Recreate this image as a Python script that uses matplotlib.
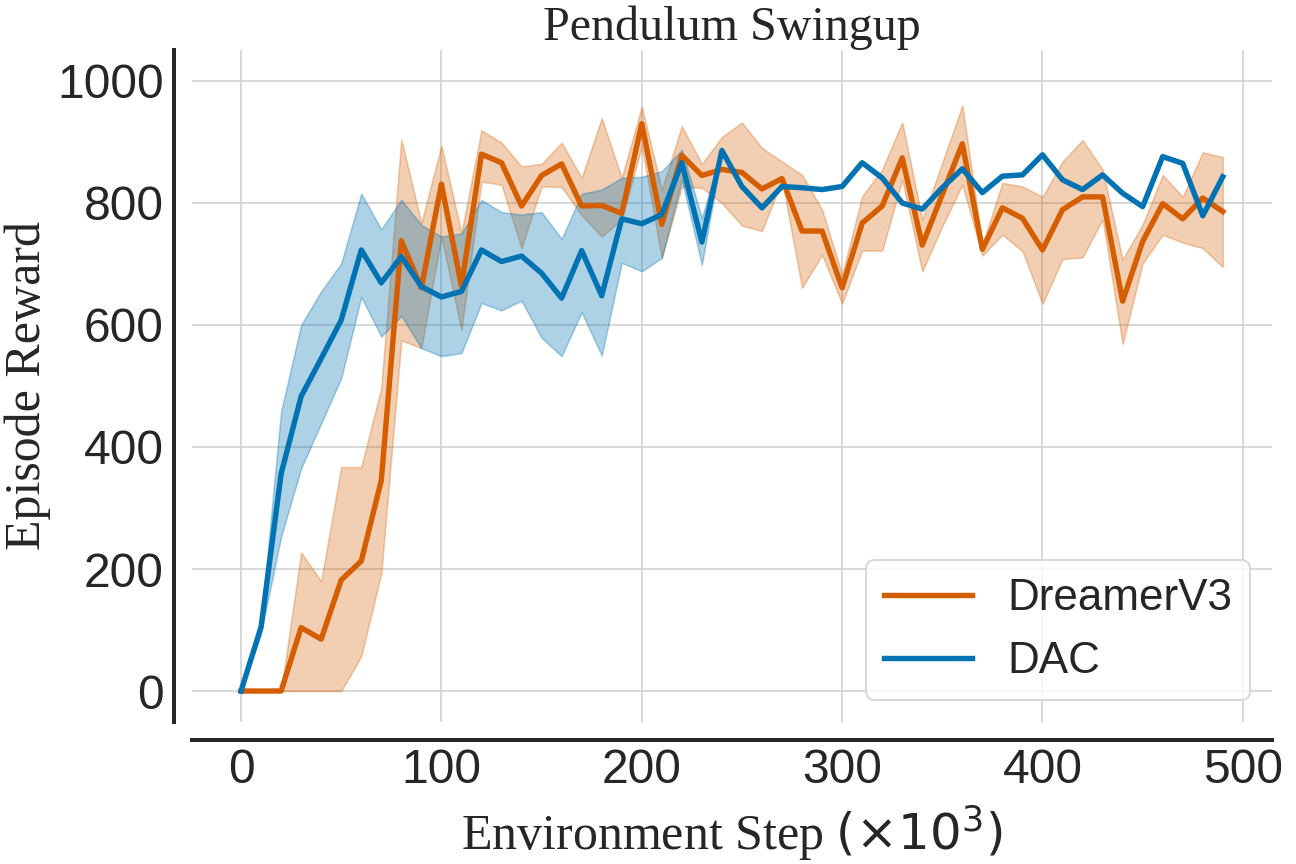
import matplotlib
matplotlib.use("Agg")
import matplotlib.pyplot as plt

# environment steps (x1000)
steps = [0, 10, 20, 30, 40, 50, 60, 70, 80, 90,
         100, 110, 120, 130, 140, 150, 160, 170, 180, 190,
         200, 210, 220, 230, 240, 250, 260, 270, 280, 290,
         300, 310, 320, 330, 340, 350, 360, 370, 380, 390,
         400, 410, 420, 430, 440, 450, 460, 470, 480, 490]

dreamer_mean = [0, 0, 0, 104, 85, 182, 213, 345, 738, 661,
                831, 664, 880, 866, 795, 845, 864, 795, 796, 783,
                930, 765, 878, 845, 855, 850, 823, 840, 754, 754,
                661, 767, 795, 874, 731, 814, 897, 724, 792, 775,
                723, 789, 810, 810, 639, 737, 799, 774, 808, 786]
dreamer_upper = [0, 0, 0, 227, 180, 367, 367, 497, 904, 767,
                 894, 751, 919, 899, 860, 864, 899, 841, 939, 841,
                 958, 822, 926, 864, 908, 932, 890, 868, 846, 789,
                 683, 811, 855, 932, 773, 866, 960, 732, 833, 827,
                 810, 868, 903, 855, 707, 765, 846, 810, 883, 875]
dreamer_lower = [0, 0, 0, 0, 0, 0, 57, 193, 575, 562,
                 745, 592, 835, 830, 726, 827, 826, 780, 745, 773,
                 893, 710, 826, 825, 800, 763, 754, 838, 661, 715,
                 635, 722, 722, 838, 688, 762, 830, 714, 748, 721,
                 635, 708, 711, 773, 569, 701, 748, 735, 726, 695]

dac_mean = [0, 105, 356, 483, 545, 608, 723, 669, 712, 663,
            646, 655, 723, 704, 713, 685, 644, 722, 648, 774,
            766, 781, 866, 736, 886, 827, 792, 827, 825, 822,
            827, 866, 841, 800, 790, 825, 856, 817, 844, 846,
            879, 838, 822, 846, 816, 794, 876, 865, 779, 843]
dac_upper = [0, 114, 458, 600, 655, 701, 815, 757, 805, 764,
             745, 750, 805, 785, 781, 785, 741, 815, 822, 841,
             843, 852, 887, 775, 890, 829, 794, 829, 827, 824,
             829, 868, 843, 802, 792, 827, 858, 819, 846, 848,
             881, 840, 824, 848, 818, 796, 878, 867, 781, 845]
dac_lower = [0, 95, 253, 365, 439, 513, 646, 581, 615, 562,
             549, 554, 636, 624, 640, 579, 549, 621, 550, 702,
             688, 710, 838, 699, 882, 825, 790, 825, 823, 820,
             825, 864, 839, 798, 788, 823, 854, 815, 842, 844,
             877, 836, 820, 844, 814, 792, 874, 863, 777, 841]

orange = "#d55e00"
blue = "#0173b2"
dark = "#262626"

plt.rcParams["font.family"] = ["Liberation Sans", "DejaVu Sans"]
plt.rcParams["mathtext.fontset"] = "dejavusans"

fig = plt.figure(figsize=(9, 6), dpi=144)
ax = fig.add_axes([0.1481, 0.1649, 0.8333, 0.7767])

ax.fill_between(steps, dreamer_lower, dreamer_upper, color=orange, alpha=0.3, linewidth=0.8)
ax.plot(steps, dreamer_mean, color=orange, lw=2.7, label="DreamerV3")
ax.fill_between(steps, dac_lower, dac_upper, color=blue, alpha=0.32, linewidth=0.8)
ax.plot(steps, dac_mean, color=blue, lw=2.7, label="DAC")

ax.set_ylim(-50, 1050)
ax.set_xticks([0, 100, 200, 300, 400, 500])
ax.set_yticks([0, 200, 400, 600, 800, 1000])
ax.grid(True, color="#d0d0d0", lw=0.8)
ax.set_axisbelow(True)

for s in ["top", "right"]:
    ax.spines[s].set_visible(False)
for s in ["left", "bottom"]:
    ax.spines[s].set_position(("outward", 9))
    ax.spines[s].set_linewidth(2)
    ax.spines[s].set_color(dark)

ax.tick_params(axis="both", length=0, labelsize=24, labelcolor=dark)
ax.tick_params(axis="y", pad=5)
ax.tick_params(axis="x", pad=4)

ax.set_title("Pendulum Swingup", fontsize=24, family="Liberation Serif", color=dark, pad=3)
ax.set_ylabel("Episode Reward", fontsize=25, family="Liberation Serif", color=dark, labelpad=3)
ax.set_xlabel(r"Environment Step $(\times10^3)$", fontsize=25, family="Liberation Serif",
              color=dark, labelpad=5)

leg = ax.legend(loc="lower right", fontsize=22, frameon=True, fancybox=True,
                edgecolor="#d0d0d0", framealpha=0.8)
for t in leg.get_texts():
    t.set_color(dark)

fig.savefig("out.png", dpi=144)
